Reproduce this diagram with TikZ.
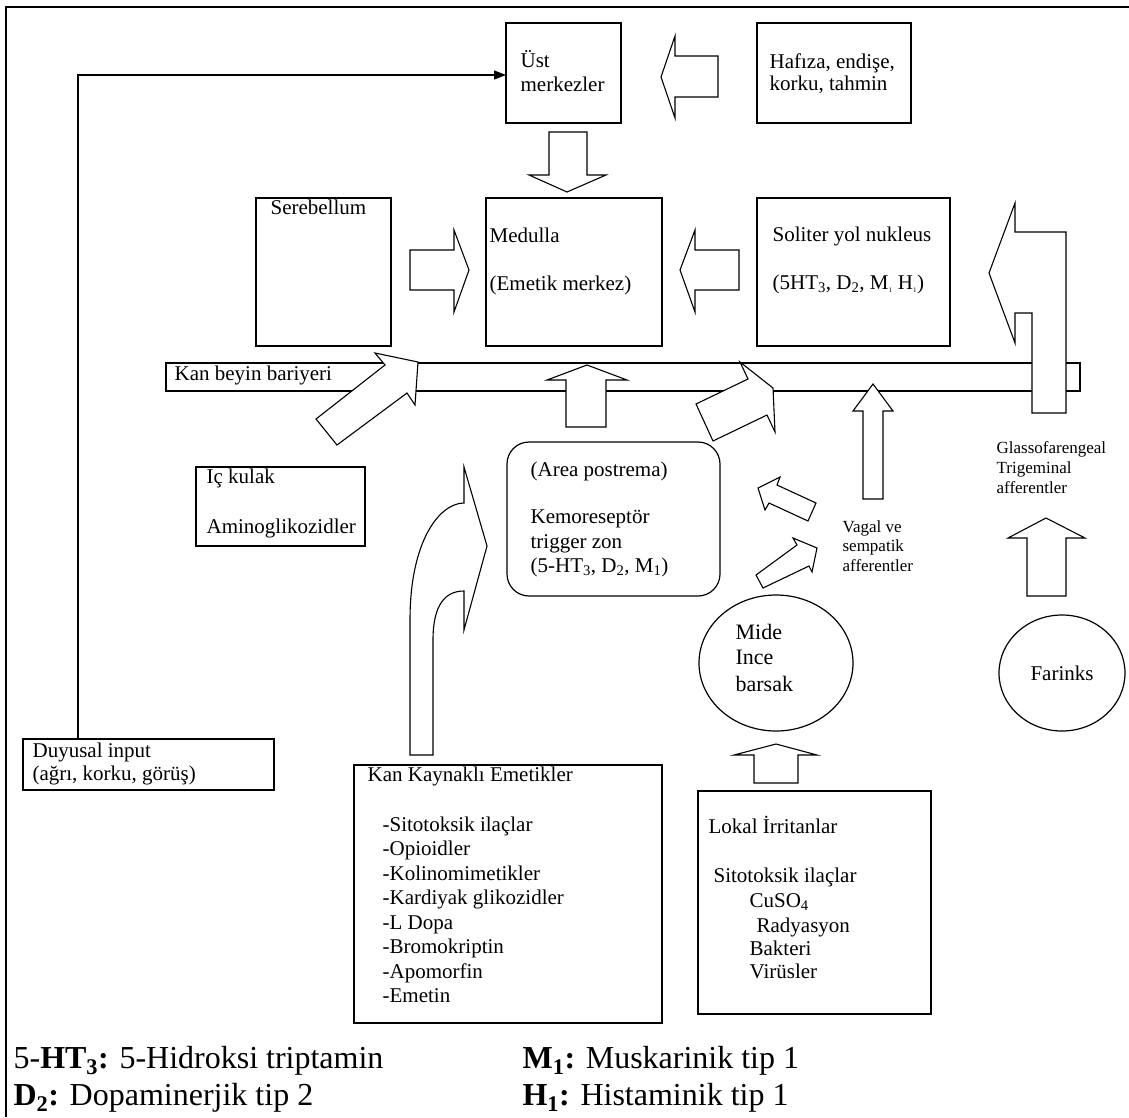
\documentclass[tikz,border=0pt]{standalone}
\usepackage{fontspec}
\setmainfont{Liberation Serif}
\usetikzlibrary{arrows.meta,shapes.geometric}

\newcommand\boxfs{\fontsize{21}{24}\selectfont}
\newcommand\smallfs{\fontsize{17}{19}\selectfont}
\newcommand\legfs{\fontsize{32}{38}\selectfont}
\newcommand\tinysub[1]{\textsubscript{\fontsize{7}{7}\selectfont #1}}

\begin{document}
\begin{tikzpicture}[x=1pt,y=-1pt,line width=1.2pt,
  box/.style={draw,inner sep=0pt,outer sep=0pt},
  lbl/.style={anchor=base west,inner sep=0pt,font=\boxfs},
  small/.style={anchor=base west,inner sep=0pt,font=\smallfs},
  leg/.style={anchor=base west,inner sep=0pt,font=\legfs},
  barrow/.style={draw,fill=white,line width=1.1pt,line join=miter}]
\useasboundingbox (0,0) rectangle (1129,1117);
\draw[line width=2pt] (6,1117) -- (6,7) -- (1129,7);

% boxes
\node[box,minimum width=115pt,minimum height=100pt] (ust) at (563.5,73) {};
\node[box,minimum width=154pt,minimum height=100pt] (hafiza) at (834,73) {};
\node[box,minimum width=135pt,minimum height=148pt] (sereb) at (323.5,272) {};
\node[box,minimum width=176pt,minimum height=148pt] (medulla) at (574,272) {};
\node[box,minimum width=193pt,minimum height=148pt] (soliter) at (853.5,272) {};
\node[box,minimum width=914pt,minimum height=28pt] (bariyer) at (623,377) {};
\node[box,minimum width=169pt,minimum height=79pt] (ickulak) at (280.5,506.5) {};
\node[box,rounded corners=22pt,minimum width=213pt,minimum height=154pt] (ctz) at (613.5,519) {};
\node[box,minimum width=251pt,minimum height=51pt] (duyusal) at (148.5,764.5) {};
\node[box,minimum width=308pt,minimum height=258pt] (kan) at (508,894) {};
\node[box,minimum width=233pt,minimum height=223pt] (lokal) at (814.5,902.5) {};
\node[box,ellipse,minimum width=154pt,minimum height=136pt] (mide) at (776,663) {};
\node[box,ellipse,minimum width=126pt,minimum height=116pt,font=\boxfs] (farinks) at (1062,673) {Farinks};

% texts
\foreach \y/\t [count=\i] in {67/Üst,91/merkezler}
  \node[lbl] (ust-\i) at (520,\y) {\t};
\foreach \y/\t [count=\i] in {68/{Hafıza, endişe,},90/{korku, tahmin}}
  \node[lbl] (hafiza-\i) at (769,\y) {\t};
\node[lbl] (sereb-1) at (270,214) {Serebellum};
\foreach \y/\t [count=\i] in {242/Medulla,290/(Emetik merkez)}
  \node[lbl] (medulla-\i) at (489,\y) {\t};
\node[lbl] (soliter-1) at (772,241) {Soliter yol nukleus};
\node[lbl] (soliter-2) at (772,289) {(5HT\textsubscript{3}, D\textsubscript{2}, M\tinysub{1} H\tinysub{1})};
\node[lbl] (bariyer-1) at (174,380) {Kan beyin bariyeri};
\foreach \y/\t [count=\i] in {483/Iç kulak,533/Aminoglikozidler}
  \node[lbl] (ickulak-\i) at (206,\y) {\t};
\foreach \y/\t [count=\i] in {476/(Area postrema),523/Kemoreseptör,548/trigger zon}
  \node[lbl] (ctz-\i) at (530,\y) {\t};
\node[lbl] (ctz-4) at (530,572) {(5-HT\textsubscript{3}, D\textsubscript{2}, M\textsubscript{1})};
\foreach \y/\t [count=\i] in {757/Duyusal input,780/{(ağrı, korku, görüş)}}
  \node[lbl] (duyusal-\i) at (32,\y) {\t};
\node[lbl] (kan-0) at (367,781) {Kan Kaynaklı Emetikler};
\foreach \t [count=\i] in {Sitotoksik ilaçlar,Opioidler,Kolinomimetikler,Kardiyak glikozidler,L Dopa,Bromokriptin,Apomorfin,Emetin}
  \node[lbl] (kan-\i) at (382,{806.5+24.5*\i}) {-\t};
\node[lbl] (lokal-1) at (708,833) {Lokal İrritanlar};
\node[lbl] (lokal-2) at (713,882) {Sitotoksik ilaçlar};
\node[lbl] (lokal-3) at (749,907) {CuSO\textsubscript{4}};
\node[lbl] (lokal-4) at (756,932) {Radyasyon};
\node[lbl] (lokal-5) at (749,955) {Bakteri};
\node[lbl] (lokal-6) at (749,978) {Virüsler};
\foreach \y/\t [count=\i] in {532/Vagal ve,551/sempatik,571/afferentler}
  \node[small] (vagal-\i) at (842,\y) {\t};
\foreach \y/\t [count=\i] in {453/Glassofarengeal,473/Trigeminal,493/afferentler}
  \node[small] (glasso-\i) at (996,\y) {\t};
\foreach \y/\t [count=\i] in {639/Mide,664/Ince,691/barsak}
  \node[lbl,font=\fontsize{22}{25}\selectfont] (mide-\i) at (735,\y) {\t};

% legend
\node[leg] (leg-1) at (13,1068) {5-\textbf{HT\textsubscript{3}:} 5-Hidroksi triptamin};
\node[leg] (leg-2) at (13,1105) {\textbf{D\textsubscript{2}:} Dopaminerjik tip 2};
\node[leg] (leg-3) at (522,1068) {\textbf{M\textsubscript{1}:} Muskarinik tip 1};
\node[leg] (leg-4) at (522,1105) {\textbf{H\textsubscript{1}:} Histaminik tip 1};

% sensory input line
\coordinate (corner) at (78,75);
\draw[-{Triangle[length=12pt,width=9pt]}] (duyusal.north -| corner) |- (ust.west |- corner);

% block arrows
\draw[barrow] (718,56) -- (675,56) -- (675,36) -- (661,77) -- (675,118) -- (675,97) -- (718,97) -- cycle;
\draw[barrow] (549,132) -- (587,132) -- (587,175) -- (606,175) -- (567,192) -- (529,175) -- (549,175) -- cycle;
\draw[barrow] (410,250) -- (454,250) -- (454,230) -- (469,270) -- (454,312) -- (454,290) -- (410,290) -- cycle;
\draw[barrow] (739,250) -- (695,250) -- (695,230) -- (680,270) -- (695,312) -- (695,290) -- (739,290) -- cycle;
\draw[barrow] (1032,413) -- (1066,413) -- (1066,232) -- (1015,232) -- (1015,203) -- (989,273) -- (1015,343) -- (1015,313) -- (1032,313) -- cycle;
\draw[barrow] (316,419) -- (385,365) -- (375,353) -- (418,362) -- (415,405) -- (407,393) -- (337,445) -- cycle;
\draw[barrow] (566,427) -- (566,380) -- (547,380) -- (587,365) -- (627,380) -- (606,380) -- (606,427) -- cycle;
\draw[barrow] (696,404) -- (748,379) -- (740,362) -- (773,388) -- (775,432) -- (767,415) -- (713,441) -- cycle;
\draw[barrow] (863,499) -- (863,411) -- (853,411) -- (873,384) -- (893,411) -- (883,411) -- (883,499) -- cycle;
\draw[barrow] (758,488) -- (780,477) -- (777,485) -- (816,503) -- (808,521) -- (769,503) -- (765,510) -- cycle;
\draw[barrow] (756,575) -- (797,545) -- (793,538) -- (817,548) -- (812,572) -- (809,566) -- (763,588) -- cycle;
\draw[barrow] (410,755) -- (410,620) .. controls (410,540) and (440,503) .. (464,503) -- (464,467) -- (487,546)
  -- (464,630) -- (464,591) .. controls (445,591) and (433,605) .. (433,640) -- (433,755) -- cycle;
\draw[barrow] (754,783) -- (754,755) -- (734,755) -- (776,744) -- (817,755) -- (798,755) -- (798,783) -- cycle;
\draw[barrow] (1027,596) -- (1027,538) -- (1008,538) -- (1046,518) -- (1085,538) -- (1066,538) -- (1066,596) -- cycle;
\end{tikzpicture}
\end{document}
